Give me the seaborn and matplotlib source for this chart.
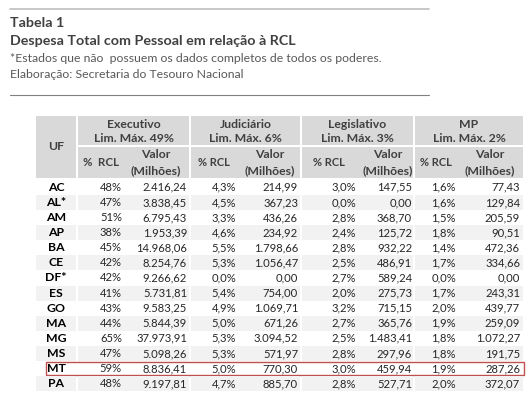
import numpy as np
import pandas as pd
import seaborn as sns
import matplotlib.pyplot as plt
from matplotlib.patches import Rectangle

# ---------- dados ----------
ufs = ["AC", "AL*", "AM", "AP", "BA", "CE", "DF*", "ES", "GO", "MA", "MG", "MS", "MT", "PA"]
exec_pct = [48, 47, 51, 38, 45, 42, 42, 41, 43, 44, 65, 47, 59, 48]
exec_val = [2416.24, 3838.45, 6795.43, 1953.39, 14968.06, 8254.76, 9266.62, 5731.81,
            9583.25, 5844.39, 37973.91, 5098.26, 8836.41, 9197.81]
jud_pct = [4.3, 4.5, 3.3, 4.6, 5.5, 5.3, 0.0, 5.4, 4.9, 5.0, 5.3, 5.3, 5.0, 4.7]
jud_val = [214.99, 367.23, 436.26, 234.92, 1798.66, 1056.47, 0.00, 754.00,
           1069.71, 671.26, 3094.52, 571.97, 770.30, 885.70]
leg_pct = [3.0, 0.0, 2.8, 2.4, 2.8, 2.5, 2.7, 2.0, 3.2, 2.7, 2.5, 2.8, 3.0, 2.8]
leg_val = [147.55, 0.00, 368.70, 125.72, 932.22, 486.91, 589.24, 275.73,
           715.15, 365.76, 1483.41, 297.96, 459.94, 527.71]
mp_pct = [1.6, 1.6, 1.5, 1.8, 1.4, 1.7, 0.0, 1.7, 2.0, 1.9, 1.8, 1.8, 1.9, 2.0]
mp_val = [77.43, 129.84, 205.59, 90.51, 472.36, 334.66, 0.00, 243.31,
          439.77, 259.09, 1072.27, 191.75, 287.26, 372.07]

poderes = ["Executivo", "Judiciário", "Legislativo", "MP"]
limites = ["Lim. Máx. 49%", "Lim. Máx. 6%", "Lim. Máx. 3%", "Lim. Máx. 2%"]
destaque = "MT"

df = pd.DataFrame({
    "uf": ufs,
    "exec_pct": exec_pct, "exec_val": exec_val,
    "jud_pct": jud_pct, "jud_val": jud_val,
    "leg_pct": leg_pct, "leg_val": leg_val,
    "mp_pct": mp_pct, "mp_val": mp_val,
})


def fmt_br(v, casas=2):
    s = f"{v:,.{casas}f}"
    return s.replace(",", "X").replace(".", ",").replace("X", ".")


# ---------- layout (pixels) ----------
sns.set_style("white")
plt.rcParams["font.family"] = ["Lato", "DejaVu Sans"]

fig = plt.figure(figsize=(5.27, 4.18), dpi=100)
ax = fig.add_axes([0, 0, 1, 1])
ax.set_xlim(0, 527)
ax.set_ylim(418, 0)
ax.axis("off")

cinza_cab = "#d9d9d9"
cinza_lin = "#f2f2f2"
txt_cab = "#404040"
fs_cab = 8.8
fs_corpo = 8.1

# cabeçalho do documento
ax.plot([10, 429], [9, 9], color="#bfbfbf", lw=1.2)
ax.plot([10, 429], [95, 95], color="#808080", lw=0.8)
ax.text(10, 23, "Tabela 1", fontsize=10.3, fontweight="bold", color=txt_cab, va="center")
ax.text(10, 41, "Despesa Total com Pessoal em relação à RCL", fontsize=10.3,
        fontweight="bold", color=txt_cab, va="center")
ax.text(10, 58, "*Estados que não  possuem os dados completos de todos os poderes.",
        fontsize=8.8, color="#595959", va="center")
ax.text(10, 75, "Elaboração: Secretaria do Tesouro Nacional",
        fontsize=8.8, color="#595959", va="center")

# colunas
uf_x = (36, 76)
grupos = [(78, 189), (191, 300), (302, 413), (415, 523)]
cols_pct = ["exec_pct", "jud_pct", "leg_pct", "mp_pct"]
cols_val = ["exec_val", "jud_val", "leg_val", "mp_val"]
pct_centro = [101, 214, 329, 436]
val_centro = [156, 270, 388, 490]
pct_right = [122, 236, 356, 456]
val_right = [187, 298, 412, 520]
pct_casas = [0, 1, 1, 1]

top = 116
mid_top, mid_bot = 144.5, 147
cab_bot = 178
body_top = 179.8
row_h = 15.1

# células do cabeçalho
ax.add_patch(Rectangle((uf_x[0], top), uf_x[1] - uf_x[0], cab_bot - top, color=cinza_cab, lw=0))
ax.text(np.mean(uf_x), (top + cab_bot) / 2, "UF", fontsize=fs_cab, fontweight="bold",
        color=txt_cab, ha="center", va="center")
for i, ((x0, x1), nome, lim) in enumerate(zip(grupos, poderes, limites)):
    ax.add_patch(Rectangle((x0, top), x1 - x0, mid_top - top, color=cinza_cab, lw=0))
    ax.add_patch(Rectangle((x0, mid_bot), x1 - x0, cab_bot - mid_bot, color=cinza_cab, lw=0))
    cx = (x0 + x1) / 2
    ax.text(cx, 124, nome, fontsize=fs_cab, fontweight="bold", color=txt_cab, ha="center", va="center")
    ax.text(cx, 138, lim, fontsize=fs_cab, fontweight="bold", color=txt_cab, ha="center", va="center")
    rcl = "%  RCL" if i == 0 else "% RCL"
    ax.text(pct_centro[i], 163, rcl, fontsize=8.3 if i == 0 else 8.0, fontweight="bold",
            color=txt_cab, ha="center", va="center")
    ax.text(val_centro[i], 155, "Valor", fontsize=fs_cab, fontweight="bold",
            color=txt_cab, ha="center", va="center")
    ax.text(val_centro[i], 171, "(Milhões)", fontsize=fs_cab, fontweight="bold",
            color=txt_cab, ha="center", va="center")

# corpo da tabela
for r, row in df.iterrows():
    y0 = body_top + r * row_h
    yc = y0 + row_h / 2
    if r % 2 == 1:
        ax.add_patch(Rectangle((uf_x[0], y0), uf_x[1] - uf_x[0], row_h, color=cinza_lin, lw=0))
        for x0, x1 in grupos:
            ax.add_patch(Rectangle((x0, y0), x1 - x0, row_h, color=cinza_lin, lw=0))
    ax.text(np.mean(uf_x), yc, row["uf"], fontsize=8.8, fontweight="bold", color="black",
            ha="center", va="center")
    for cp, cv, xp, xv, nc in zip(cols_pct, cols_val, pct_right, val_right, pct_casas):
        ax.text(xp, yc, fmt_br(row[cp], nc) + "%", fontsize=fs_corpo, color="#262626",
                ha="right", va="center")
        ax.text(xv, yc, fmt_br(row[cv]), fontsize=fs_corpo, color="#262626",
                ha="right", va="center")
    if row["uf"] == destaque:
        ax.add_patch(Rectangle((46, y0 + 1), 524 - 46, row_h - 2, fill=False,
                               edgecolor="#c0504d", lw=1.0))

fig.savefig("out.png", dpi=100)
